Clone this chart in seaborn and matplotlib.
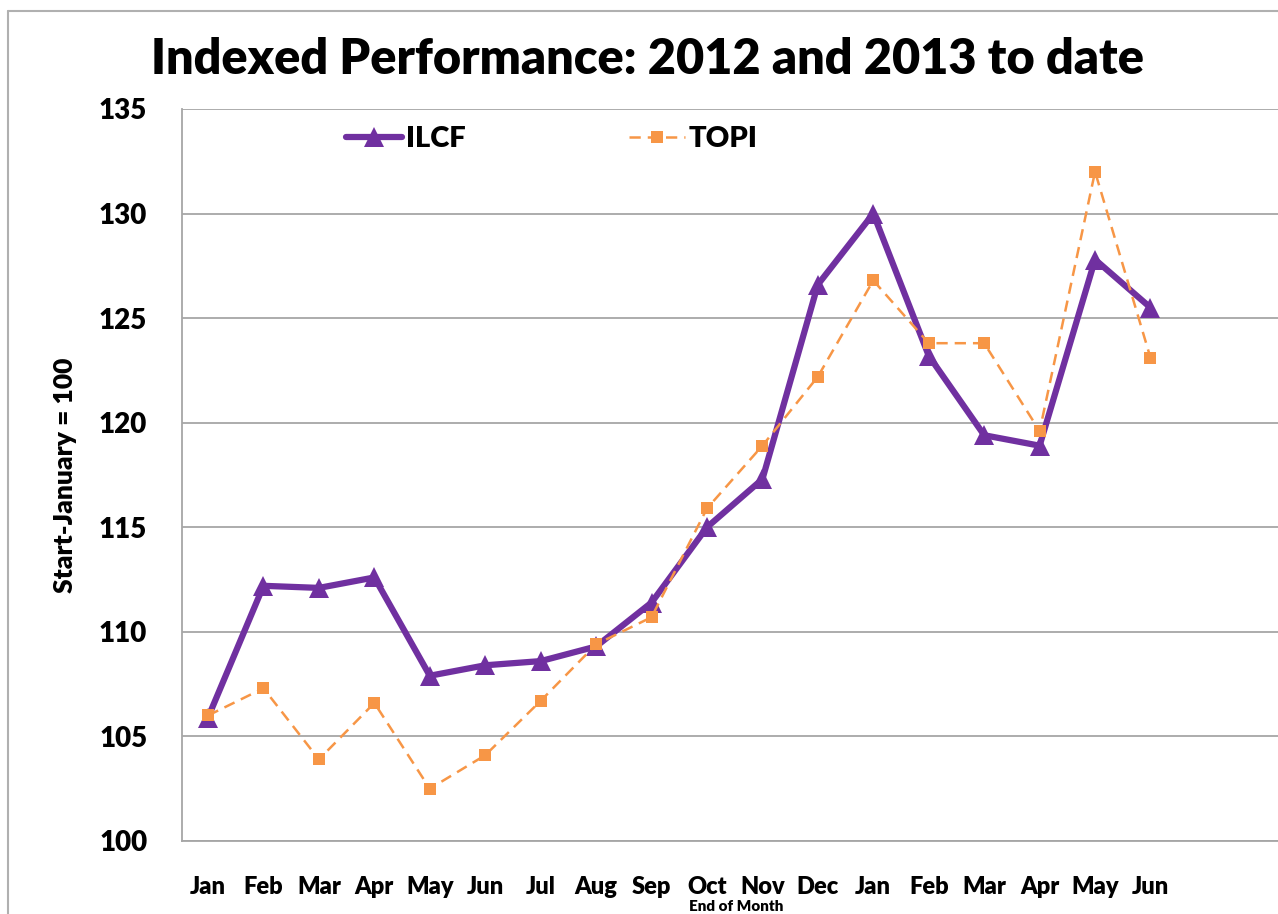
import matplotlib
matplotlib.use('Agg')
import matplotlib.pyplot as plt
import seaborn as sns
import pandas as pd

months = ['Jan', 'Feb', 'Mar', 'Apr', 'May', 'Jun', 'Jul', 'Aug', 'Sep', 'Oct',
          'Nov', 'Dec', 'Jan', 'Feb', 'Mar', 'Apr', 'May', 'Jun']
ilcf = [105.9, 112.2, 112.1, 112.6, 107.9, 108.4, 108.6, 109.3, 111.4, 115.0,
        117.3, 126.6, 130.0, 123.2, 119.4, 118.9, 127.8, 125.5]
topi = [106.0, 107.3, 103.9, 106.6, 102.5, 104.1, 106.7, 109.4, 110.7, 115.9,
        118.9, 122.2, 126.8, 123.8, 123.8, 119.6, 132.0, 123.1]
yticks = [100, 105, 110, 115, 120, 125, 130, 135]

sns.set_style('white')
plt.rcParams['font.family'] = ['Lato', 'DejaVu Sans']
plt.rcParams['font.weight'] = 'heavy'
plt.rcParams['text.color'] = 'black'
plt.rcParams['xtick.color'] = 'black'
plt.rcParams['ytick.color'] = 'black'
plt.rcParams['axes.labelcolor'] = 'black'

df = pd.DataFrame({'pos': range(len(months)), 'ILCF': ilcf, 'TOPI': topi})

fig = plt.figure(figsize=(12.78, 9.14), dpi=100)
ax = fig.add_axes([0.1424, 0.0799, 0.8576, 0.8009])

sns.lineplot(data=df, x='pos', y='ILCF', ax=ax, color='#7030A0', lw=4.5,
             marker='^', markersize=15, markeredgewidth=0, label='ILCF')
sns.lineplot(data=df, x='pos', y='TOPI', ax=ax, color='#F79646', lw=1.8,
             marker='s', markersize=9, markeredgewidth=0, label='TOPI')
ax.lines[-1].set_dashes([4.5, 2.8])

ax.set_xlim(-0.47, 19.3)
ax.set_ylim(100, 135)
ax.set_yticks(yticks)
ax.set_yticklabels([str(t) for t in yticks], fontsize=20, fontweight='heavy')
ax.set_xticks(range(len(months)))
ax.set_xticklabels(months, fontsize=17, fontweight='heavy')
ax.tick_params(axis='both', length=0)
ax.tick_params(axis='x', pad=25)
ax.tick_params(axis='y', pad=25)
ax.grid(axis='y', color='#a6a6a6', lw=1.3)
ax.set_axisbelow(True)
for s in ['top', 'right']:
    ax.spines[s].set_visible(False)
for s in ['left', 'bottom']:
    ax.spines[s].set_color('#a6a6a6')
    ax.spines[s].set_linewidth(1.3)

ax.set_xlabel('')
ax.set_ylabel('Start-January = 100', fontsize=19, fontweight='heavy', labelpad=16)

leg = ax.legend(loc='upper left', bbox_to_anchor=(0.126, 1.012), ncol=2,
                frameon=False, fontsize=21, handlelength=1.9, handletextpad=0.15,
                columnspacing=5.6)
for t in leg.get_texts():
    t.set_fontweight('heavy')

fig.text(0.507, 0.935, 'Indexed Performance: 2012 and 2013 to date',
         ha='center', va='center', fontsize=35, fontweight='heavy')
fig.text(0.576, 0.001, 'End of Month', ha='center', va='bottom',
         fontsize=11, fontweight='heavy')

fig.add_artist(plt.Line2D([0.0063, 0.0063], [0, 0.988], color='#b0b0b0', lw=1.5))
fig.add_artist(plt.Line2D([0.0063, 1.0], [0.988, 0.988], color='#b0b0b0', lw=1.5))

fig.savefig('out.png', dpi=100)
